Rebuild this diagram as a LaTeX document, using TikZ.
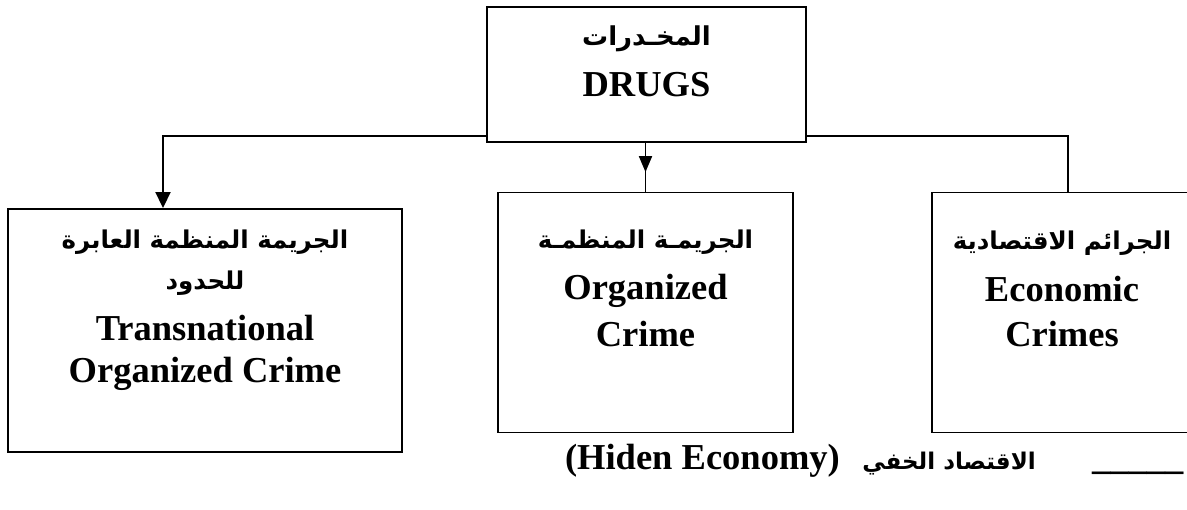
\documentclass[tikz,border=0pt]{standalone}
\usepackage{fontspec}
\setmainfont{Liberation Serif}
\newfontfamily\arabicfont[Script=Arabic]{DejaVu Sans}
\TeXXeTstate=1
\usetikzlibrary{arrows.meta,decorations.markings}
\begin{document}
\begin{tikzpicture}[x=1pt,y=-1pt,
  box/.style={draw,line width=1.9pt,inner sep=0pt},
  en/.style={font=\fontsize{36.5}{44}\selectfont\bfseries,anchor=base,inner sep=0pt},
  ar/.style={font=\fontsize{24.5}{30}\selectfont\arabicfont\bfseries,anchor=base,inner sep=0pt},
  conn/.style={line width=1.9pt},
  tip/.style={-{Triangle[length=16pt,width=15pt]}}
]
\useasboundingbox[fill=white] (0,0) rectangle (1187,510);

% boxes
\node[box,minimum width=319pt,minimum height=135pt] (top) at (646.5,74.5) {};
\node[box,minimum width=394pt,minimum height=243pt] (left) at (205,330.5) {};
\node[box,minimum width=295pt,minimum height=240pt] (mid) at (645.5,312.5) {};
\node[box,minimum width=260pt,minimum height=240pt] (right) at (1062,312.5) {};

% texts
\node[ar,font=\fontsize{26}{32}\selectfont\arabicfont\bfseries] (topar) at (646.5,46) {\beginR المخـدرات\endR};
\node[en] (topen) at (646.5,97) {DRUGS};

\node[ar] (lar1) at (205,249) {\beginR الجريمة المنظمة العابرة\endR};
\node[ar] (lar2) at (205,290) {\beginR للحدود\endR};
\node[en] (len1) at (205,341) {Transnational};
\node[en] (len2) at (205,383) {Organized Crime};

\node[ar] (mar) at (645.5,249) {\beginR الجريمـة المنظمـة\endR};
\node[en] (men1) at (645.5,300) {Organized};
\node[en] (men2) at (645.5,347) {Crime};

\node[ar] (rar) at (1062,250) {\beginR الجرائم الاقتصادية\endR};
\node[en] (ren1) at (1062,302) {Economic};
\node[en] (ren2) at (1062,347) {Crimes};

\node[en,anchor=base east] (hid) at (840,470) {(Hiden Economy)};
\node[ar,anchor=base east,font=\fontsize{23}{28}\selectfont\arabicfont\bfseries] (kh) at (1036,470) {\beginR الاقتصاد الخفي\endR};
\node[en,anchor=base west] (ul) at (1092,470) {\_\_\_\_\_};

% connectors
\draw[conn,tip] ([yshift=7pt]top.south west) -| ([xshift=-42pt]left.north);
\draw[conn] ([yshift=7pt]top.south east) -| ([xshift=6pt]right.north);
\draw[conn,postaction={decorate},decoration={markings,
  mark=at position 0.6 with {\arrow{Triangle[length=16pt,width=13pt]}}}]
  (top.south -| mid.north) -- (mid.north);
\end{tikzpicture}
\end{document}
